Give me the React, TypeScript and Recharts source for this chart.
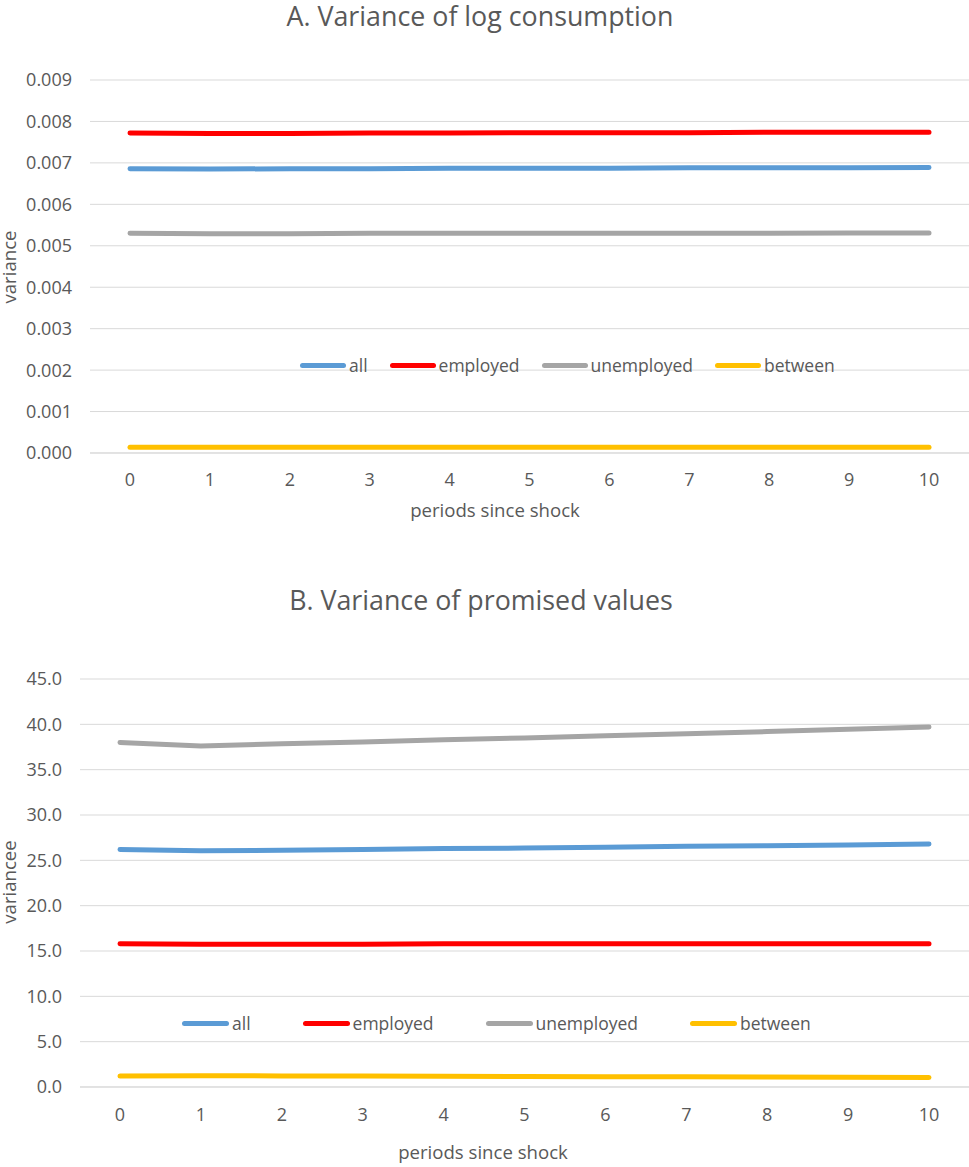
import { LineChart, Line, XAxis, YAxis, CartesianGrid, Legend } from 'recharts';

const periods = ['0', '1', '2', '3', '4', '5', '6', '7', '8', '9', '10'];

// panel A: variance of log consumption
const allA = [0.00686, 0.00685, 0.00686, 0.00686, 0.00687, 0.00687, 0.00687, 0.00688, 0.00688, 0.00688, 0.00689];
const employedA = [0.00772, 0.00771, 0.00771, 0.00772, 0.00772, 0.00773, 0.00773, 0.00773, 0.00774, 0.00774, 0.00774];
const unemployedA = [0.0053, 0.00529, 0.00529, 0.0053, 0.0053, 0.0053, 0.0053, 0.0053, 0.0053, 0.00531, 0.00531];
const betweenA = [0.00014, 0.00014, 0.00014, 0.00014, 0.00014, 0.00014, 0.00014, 0.00014, 0.00014, 0.00014, 0.00014];
const ticksA = [0, 0.001, 0.002, 0.003, 0.004, 0.005, 0.006, 0.007, 0.008, 0.009];

// panel B: variance of promised values
const allB = [26.2, 26.05, 26.1, 26.2, 26.3, 26.35, 26.45, 26.55, 26.6, 26.7, 26.8];
const employedB = [15.8, 15.75, 15.75, 15.75, 15.8, 15.8, 15.8, 15.8, 15.8, 15.8, 15.8];
const unemployedB = [38.0, 37.6, 37.85, 38.05, 38.3, 38.5, 38.75, 38.95, 39.2, 39.45, 39.7];
const betweenB = [1.2, 1.25, 1.22, 1.2, 1.18, 1.16, 1.14, 1.12, 1.1, 1.07, 1.04];
const ticksB = [0, 5, 10, 15, 20, 25, 30, 35, 40, 45];

const SERIES = [
  { key: 'all', color: '#5B9BD5' },
  { key: 'employed', color: '#FF0000' },
  { key: 'unemployed', color: '#A5A5A5' },
  { key: 'between', color: '#FFC000' },
];

const FONT = '"Open Sans", sans-serif';
const TEXT = '#595959';
const GRID = '#D9D9D9';

function rows(all: number[], employed: number[], unemployed: number[], between: number[]) {
  return periods.map((p, i) => ({
    period: p,
    all: all[i],
    employed: employed[i],
    unemployed: unemployed[i],
    between: between[i],
  }));
}

const dataA = rows(allA, employedA, unemployedA, betweenA);
const dataB = rows(allB, employedB, unemployedB, betweenB);

// keeps the series order (recharts sorts the payload by name)
function makeLegend(segment: number, gap: number) {
  return () => (
    <div style={{ display: 'flex', alignItems: 'center', fontFamily: FONT, fontSize: 17.5, color: TEXT, lineHeight: 1 }}>
      {SERIES.map((s, i) => (
        <div key={s.key} style={{ display: 'flex', alignItems: 'center', marginLeft: i === 0 ? 0 : gap }}>
          <span style={{ display: 'inline-block', width: segment, height: 5, borderRadius: 3, background: s.color }} />
          <span style={{ marginLeft: 3 }}>{s.key}</span>
        </div>
      ))}
    </div>
  );
}

interface PanelProps {
  data: any[];
  ticks: number[];
  digits: number;
  height: number;
  top: number;
  yWidth: number;
  xHeight: number;
  tickMargin: number;
  legendPos: { left: number; top: number };
  segment: number;
  gap: number;
}

function Panel({ data, ticks, digits, height, top, yWidth, xHeight, tickMargin, legendPos, segment, gap }: PanelProps) {
  const tickStyle = { fontFamily: FONT, fontSize: 18, fill: TEXT };
  return (
    <LineChart width={969} height={height} data={data} margin={{ top, right: 0, bottom: 0, left: 0 }}>
      <CartesianGrid vertical={false} stroke={GRID} />
      <XAxis
        dataKey="period"
        height={xHeight}
        tickLine={false}
        tickSize={0}
        axisLine={{ stroke: GRID }}
        tick={tickStyle}
        tickMargin={tickMargin}
        padding={{ left: 40, right: 40 }}
        interval={0}
      />
      <YAxis
        width={yWidth}
        domain={[ticks[0], ticks[ticks.length - 1]]}
        ticks={ticks}
        tickFormatter={(v: number) => v.toFixed(digits)}
        tickLine={false}
        tickSize={0}
        axisLine={false}
        tick={tickStyle}
        tickMargin={18}
      />
      <Legend
        layout="horizontal"
        verticalAlign="middle"
        align="center"
        wrapperStyle={{ left: legendPos.left, top: legendPos.top, width: 'auto' }}
        content={makeLegend(segment, gap)}
      />
      {SERIES.map((s) => (
        <Line
          key={s.key}
          dataKey={s.key}
          name={s.key}
          stroke={s.color}
          strokeWidth={5}
          strokeLinecap="round"
          dot={false}
          activeDot={false}
          type="linear"
          isAnimationActive={false}
        />
      ))}
    </LineChart>
  );
}

export default function App() {
  const txt = { fontFamily: FONT, fill: TEXT };
  return (
    <div style={{ position: 'absolute', left: 0, top: 0, width: 969, height: 1167, background: '#fff', overflow: 'hidden' }}>
      <div style={{ position: 'absolute', left: 0, top: 0 }}>
        <Panel
          data={dataA}
          ticks={ticksA}
          digits={3}
          height={540}
          top={80}
          yWidth={90}
          xHeight={87}
          tickMargin={20}
          legendPos={{ left: 300, top: 357 }}
          segment={46}
          gap={22}
        />
      </div>
      <div style={{ position: 'absolute', left: 0, top: 560 }}>
        <Panel
          data={dataB}
          ticks={ticksB}
          digits={1}
          height={607}
          top={119}
          yWidth={80}
          xHeight={80}
          tickMargin={21}
          legendPos={{ left: 182, top: 455 }}
          segment={47}
          gap={52}
        />
      </div>
      <svg width={969} height={1167} style={{ position: 'absolute', left: 0, top: 0, pointerEvents: 'none' }}>
        <text x={480} y={26} textAnchor="middle" fontSize={26.8} {...txt}>A. Variance of log consumption</text>
        <text x={495} y={517} textAnchor="middle" fontSize={18.6} {...txt}>periods since shock</text>
        <text x={16} y={267} textAnchor="middle" fontSize={18.6} transform="rotate(-90 16 267)" {...txt}>variance</text>

        <text x={481} y={610} textAnchor="middle" fontSize={26.8} {...txt}>B. Variance of promised values</text>
        <text x={483} y={1159} textAnchor="middle" fontSize={18.6} {...txt}>periods since shock</text>
        <text x={16} y={882} textAnchor="middle" fontSize={18.6} transform="rotate(-90 16 882)" {...txt}>variancee</text>
      </svg>
    </div>
  );
}
